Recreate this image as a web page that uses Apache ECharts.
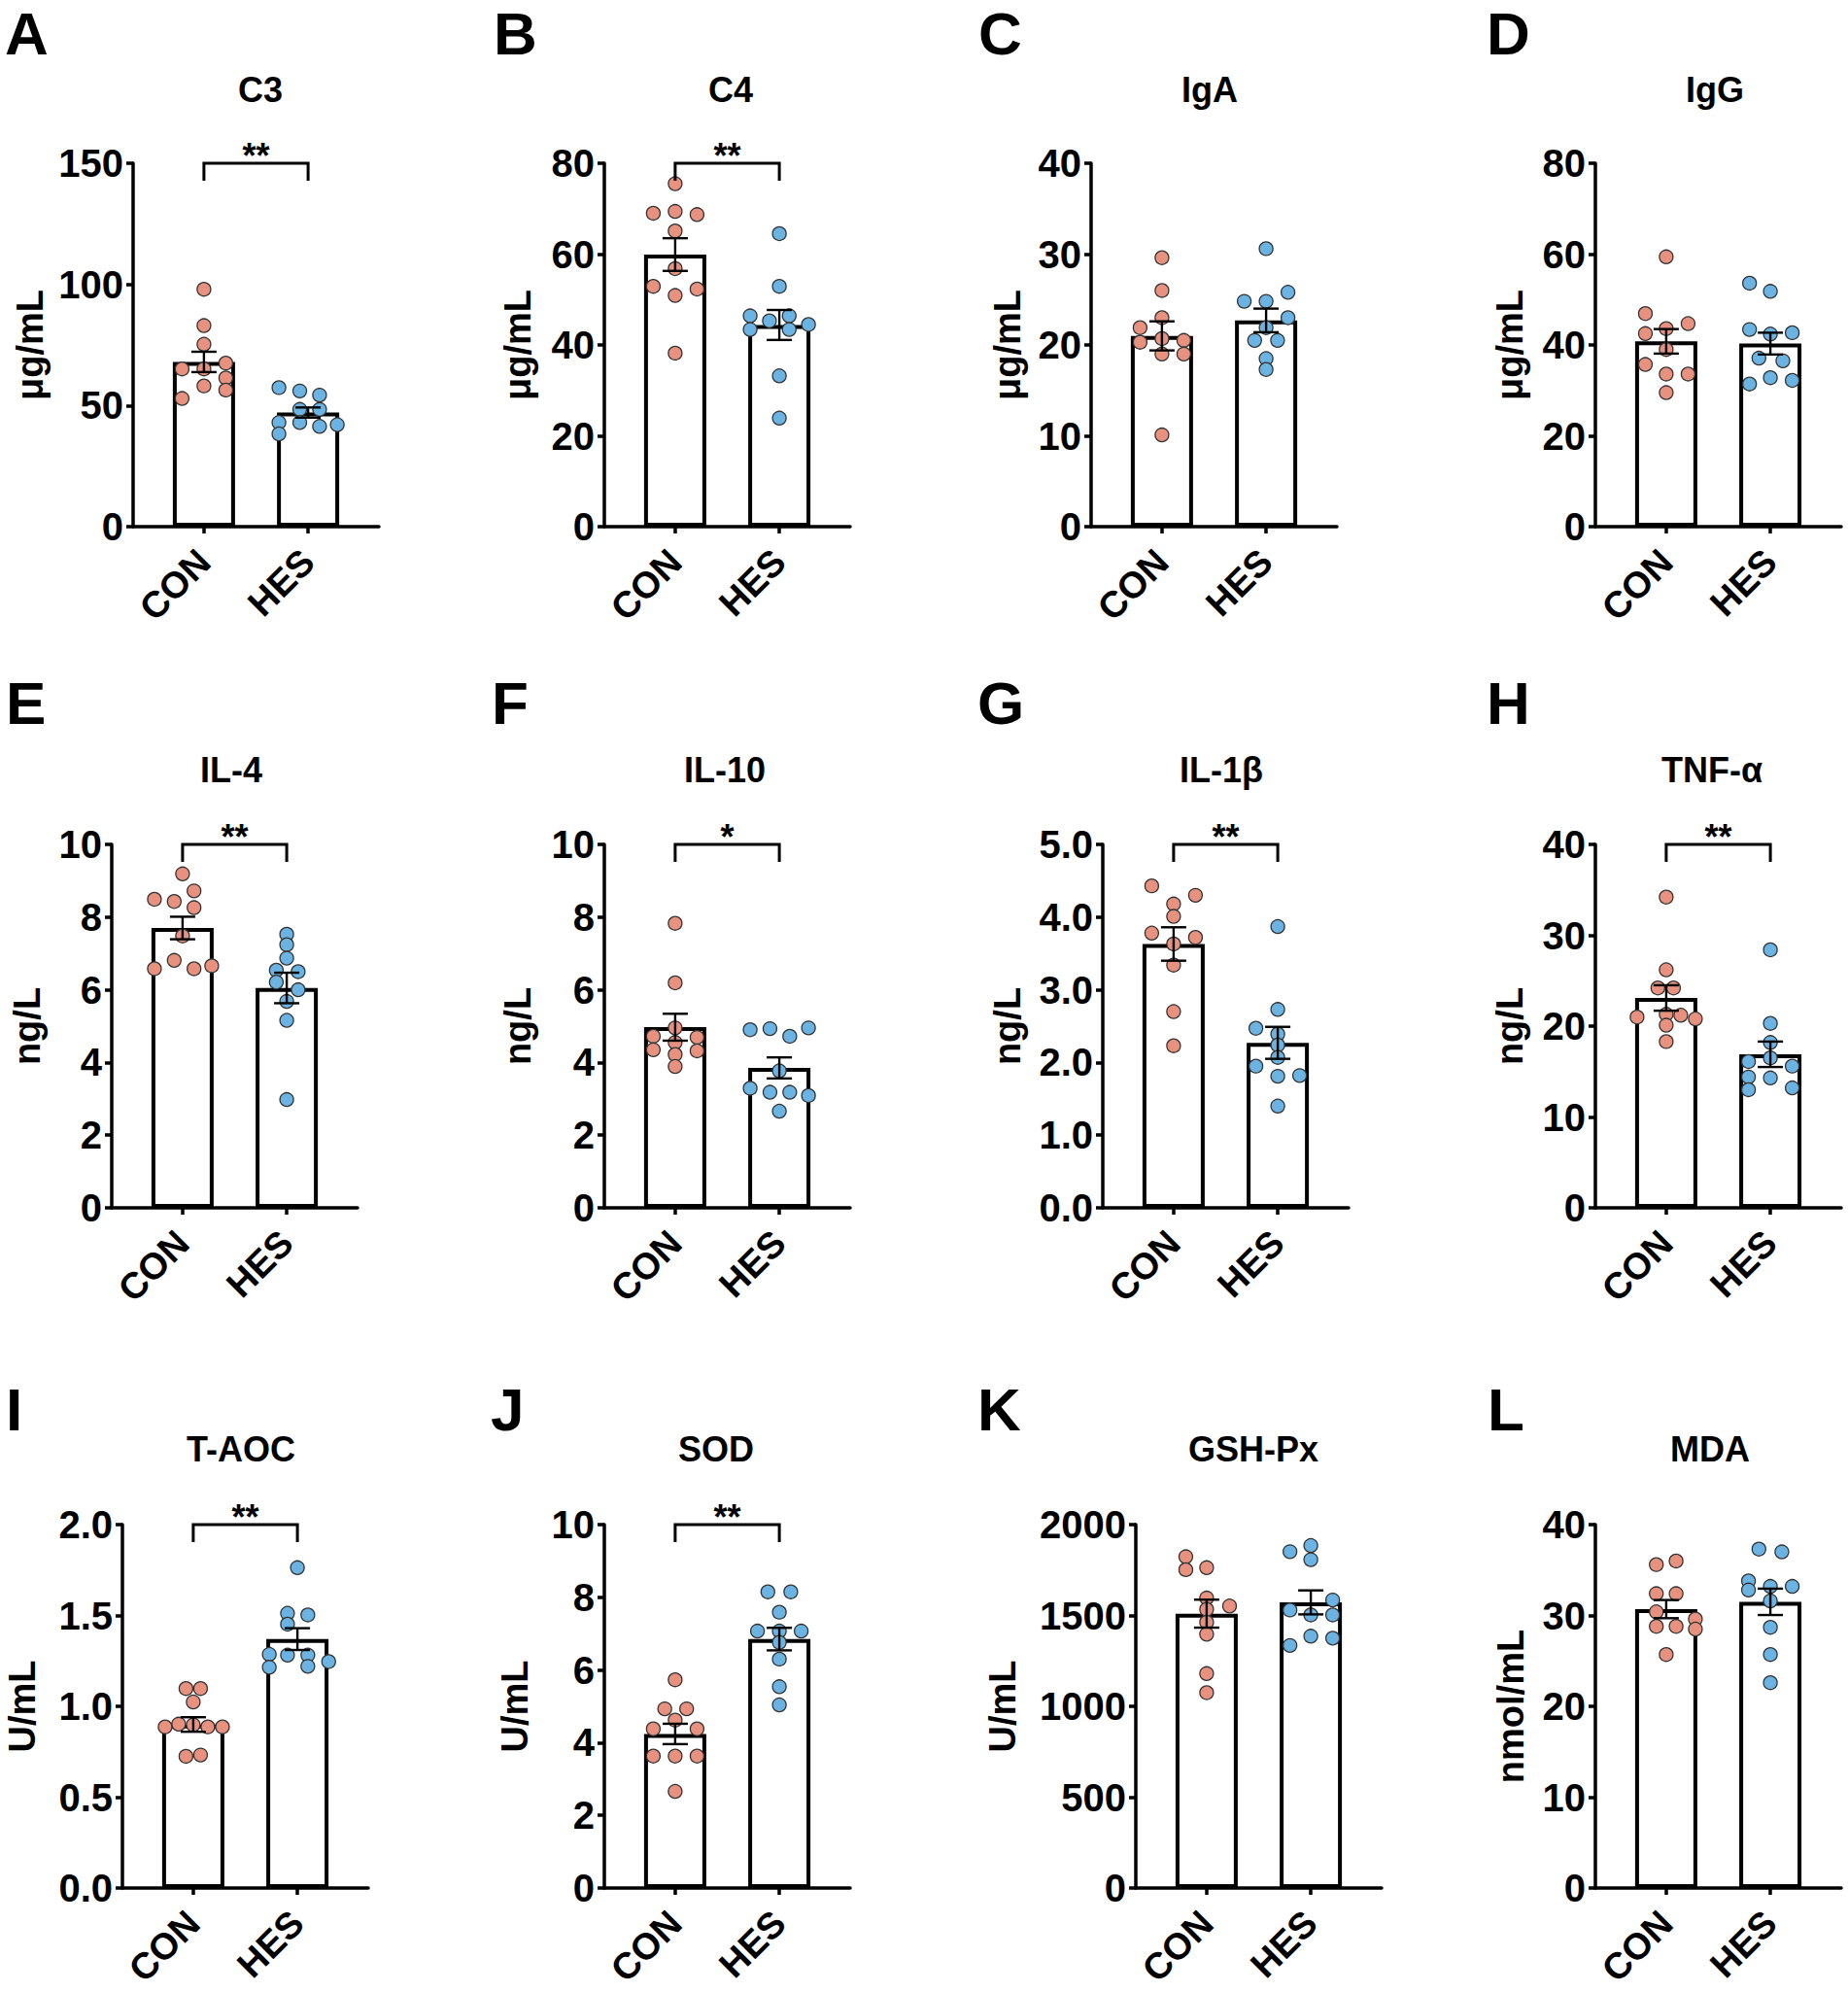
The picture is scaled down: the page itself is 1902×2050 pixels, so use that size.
<!DOCTYPE html>
<html>
<head>
<meta charset="utf-8">
<title>Serum immune and antioxidant indices</title>
<script src="https://cdn.jsdelivr.net/npm/echarts@6/dist/echarts.min.js"></script>
<style>
  html, body { margin: 0; padding: 0; background: #fff; overflow: hidden; }
  #chart { width: 1902px; height: 2050px; }
</style>
</head>
<body>
<div id="chart"></div>
<script>
const groups = ['CON', 'HES'];
const panelLetters = ['A', 'B', 'C', 'D', 'E', 'F', 'G', 'H', 'I', 'J', 'K', 'L'];
const titles = ['C3', 'C4', 'IgA', 'IgG', 'IL-4', 'IL-10', 'IL-1β', 'TNF-α', 'T-AOC', 'SOD', 'GSH-Px', 'MDA'];
const units = ['μg/mL', 'μg/mL', 'μg/mL', 'μg/mL', 'ng/L', 'ng/L', 'ng/L', 'ng/L', 'U/mL', 'U/mL', 'U/mL', 'nmol/mL'];
const yMax = [150, 80, 40, 80, 10, 10, 5, 40, 2, 10, 2000, 40];
const yStep = [50, 20, 10, 20, 2, 2, 1, 10, 0.5, 2, 500, 10];
const yDigits = [0, 0, 0, 0, 0, 0, 1, 0, 1, 0, 0, 0];
const signif = ['**', '**', '', '', '**', '*', '**', '**', '**', '**', '', ''];

// bar height (mean) and SEM, [CON, HES]
const meanValues = [
  [68.0, 47.1], [59.9, 44.4], [21.0, 22.7], [40.8, 40.3],
  [7.70, 6.05], [4.97, 3.85], [3.63, 2.27], [23.1, 16.9],
  [0.90, 1.37], [4.24, 6.85], [1510, 1572], [30.7, 31.5]
];
const semValues = [
  [4.2, 2.1], [3.6, 3.3], [1.6, 1.3], [2.7, 2.4],
  [0.31, 0.42], [0.37, 0.29], [0.23, 0.22], [1.4, 1.4],
  [0.04, 0.06], [0.28, 0.31], [77, 66], [1.0, 1.45]
];

// individual animals
const conValues = [
  [98, 83, 75.3, 67.5, 65.1, 65.1, 61.4, 58.1, 56.4, 52.9],
  [75.5, 69.0, 69.4, 68.7, 65.1, 56.8, 52.9, 52.3, 50.9, 38.2],
  [29.6, 26.0, 23.0, 21.9, 20.7, 20.3, 20.5, 19.0, 19.0, 10.1],
  [59.4, 46.9, 43.6, 44.7, 42.5, 39.0, 35.7, 33.6, 33.6, 29.5],
  [9.19, 8.72, 8.49, 8.43, 8.26, 7.48, 6.81, 6.58, 6.58, 6.66],
  [7.83, 6.19, 4.95, 4.72, 4.69, 4.55, 4.35, 4.32, 4.22, 3.89],
  [4.43, 4.30, 4.18, 4.01, 3.78, 3.72, 3.63, 3.34, 2.70, 2.23],
  [34.2, 26.2, 24.2, 24.2, 21.0, 21.3, 21.2, 20.8, 20.1, 18.3],
  [1.098, 1.098, 1.024, 0.898, 0.887, 0.902, 0.887, 0.887, 0.725, 0.732],
  [5.73, 4.93, 4.93, 4.62, 4.38, 4.38, 3.63, 3.63, 3.63, 2.66],
  [1823, 1752, 1763, 1596, 1552, 1534, 1463, 1397, 1180, 1075],
  [35.6, 36.0, 32.4, 32.4, 30.4, 29.6, 28.8, 28.8, 28.5, 25.7]
];
const hesValues = [
  [57.4, 56.0, 54.3, 48.4, 48.4, 43.0, 43.0, 41.4, 42.1, 38.3],
  [64.5, 52.9, 46.4, 45.3, 46.4, 43.4, 43.4, 44.5, 33.2, 23.9],
  [30.6, 25.8, 24.8, 24.8, 23.0, 21.9, 20.5, 20.5, 18.5, 17.3],
  [53.6, 51.8, 43.4, 42.4, 42.7, 37.1, 36.5, 32.8, 31.4, 32.2],
  [7.53, 7.24, 6.87, 6.54, 6.50, 6.21, 6.00, 5.68, 5.16, 2.98],
  [4.90, 4.93, 4.72, 4.95, 3.77, 3.29, 3.18, 3.18, 3.09, 2.66],
  [3.87, 2.73, 2.47, 2.39, 2.24, 2.07, 1.95, 1.81, 1.82, 1.40],
  [28.4, 20.3, 18.2, 16.5, 16.1, 15.6, 14.4, 14.3, 13.0, 13.2],
  [1.763, 1.512, 1.503, 1.452, 1.286, 1.282, 1.282, 1.215, 1.220, 1.246],
  [8.15, 8.15, 7.59, 7.07, 7.07, 7.07, 6.76, 6.30, 5.54, 5.04],
  [1885, 1851, 1807, 1585, 1530, 1503, 1503, 1386, 1375, 1335],
  [37.3, 37.0, 33.8, 32.8, 33.2, 33.2, 31.6, 28.7, 25.7, 22.6]
];
// horizontal scatter of each dot, in units of the CON-HES spacing
const conJitter = [
  [0, 0, 0, 0.21, -0.21, 0, 0.21, 0, 0.21, -0.21],
  [0, -0.21, 0, 0.21, 0, 0, -0.21, 0.21, 0, 0],
  [0, 0, 0, -0.21, 0, -0.21, 0.21, 0, 0.21, 0],
  [0, -0.2, 0, 0.21, -0.2, 0, -0.2, 0, 0.21, 0],
  [0, 0.11, -0.27, -0.08, 0.11, 0, -0.08, -0.27, 0.11, 0.28],
  [0, 0, 0, -0.21, 0.21, 0, -0.21, 0.21, 0, 0],
  [-0.21, 0.21, 0, 0, -0.21, 0.21, 0, 0, 0, 0],
  [0, 0, -0.08, 0.07, -0.28, 0, 0.14, 0.28, 0, 0],
  [-0.07, 0.07, 0, 0, -0.27, -0.14, 0.14, 0.28, -0.07, 0.07],
  [0, -0.1, 0.11, 0, -0.21, 0.21, -0.21, 0, 0.21, 0],
  [-0.2, -0.2, 0, 0, 0.22, 0, 0, 0, 0, 0],
  [-0.095, 0.095, -0.095, 0.095, -0.095, 0.28, -0.095, 0.095, 0.28, 0]
];
const hesJitter = [
  [-0.28, -0.08, 0.11, -0.08, 0.11, -0.28, -0.08, 0.11, 0.28, -0.28],
  [0, 0, -0.28, -0.095, 0.095, -0.28, 0.095, 0.28, 0, 0],
  [0, 0.21, -0.21, 0, 0.21, 0, -0.11, 0.11, 0, 0],
  [-0.2, 0, -0.2, 0, 0.21, -0.11, 0.12, 0, -0.2, 0.21],
  [0, 0, 0, -0.1, 0.11, -0.1, 0.11, 0, 0, 0],
  [-0.28, -0.09, 0.1, 0.28, 0, -0.28, -0.09, 0.1, 0.28, 0],
  [0, 0, -0.21, 0, 0, 0, -0.21, 0, 0.21, 0],
  [0, 0, 0, 0, -0.21, 0.21, -0.21, 0, -0.21, 0.21],
  [0, -0.095, 0.1, -0.095, -0.27, -0.095, 0.1, -0.27, 0.1, 0.3],
  [-0.11, 0.11, 0, -0.21, 0, 0.21, 0, 0, 0, 0],
  [0, -0.2, 0, 0.21, -0.2, 0, 0.21, 0, 0.21, -0.2],
  [-0.11, 0.11, -0.21, -0.21, 0, 0.21, 0, 0, 0, 0]
];

// layout, in pixels
const gridLeft = [137, 622, 1123, 1642, 115, 622, 1135, 1642, 126, 622, 1169, 1642];
const gridWidth = 253;
const rowTop = [168, 869, 1569];
const rowHeight = 374;
const xPad = 0.68;   // empty x axis beyond each group, in group spacings
const nameGap = [87, 70, 67, 69, 68, 70, 79, 69, 84, 73, 118, 68];
const letterX = [5, 508, 1007, 1530, 6, 506, 1006, 1530, 6, 505, 1006, 1531];
const titleX = [268, 752, 1245, 1765, 238, 746, 1257, 1762, 248, 737, 1290, 1760];
const letterY = [34, 723, 1450];
const titleY = [92, 792, 1491];

const FONT = '"Liberation Sans", Arial, sans-serif';
const CON_COLOR = '#E8917F';
const HES_COLOR = '#6AB3E2';

const chart = echarts.init(document.getElementById('chart'), null, { renderer: 'svg' });

const grid = [], xAxis = [], yAxis = [], series = [], graphic = [];

panelLetters.forEach(function (letter, i) {
  const row = Math.floor(i / 4);
  grid.push({
    left: gridLeft[i], top: rowTop[row], width: gridWidth, height: rowHeight,
    outerBoundsMode: 'none'
  });
  xAxis.push({
    type: 'value', gridIndex: i, min: -xPad, max: 1 + xPad,
    axisLine: { show: true, onZero: false, lineStyle: { color: '#000', width: 3.5 } },
    axisTick: { show: true, customValues: [0, 1], length: 7, lineStyle: { color: '#000', width: 3.5 } },
    axisLabel: {
      customValues: [0, 1], rotate: 45, margin: 30, fontSize: 38, fontWeight: 'bold',
      color: '#000', fontFamily: FONT,
      formatter: function (v) { return groups[Math.round(v)]; }
    },
    splitLine: { show: false }
  });
  yAxis.push({
    type: 'value', gridIndex: i, min: 0, max: yMax[i], interval: yStep[i],
    name: units[i], nameLocation: 'middle', nameGap: nameGap[i],
    nameTextStyle: { fontSize: 38, fontWeight: 'bold', color: '#000', fontFamily: FONT },
    axisLine: { show: true, onZero: false, lineStyle: { color: '#000', width: 3.5 } },
    axisTick: { show: true, length: 7, lineStyle: { color: '#000', width: 3.5 } },
    axisLabel: {
      margin: 10, fontSize: 40, fontWeight: 'bold', color: '#000', fontFamily: FONT,
      formatter: function (v) { return v.toFixed(yDigits[i]); }
    },
    splitLine: { show: false }
  });

  series.push({
    type: 'bar', xAxisIndex: i, yAxisIndex: i, barWidth: 64,
    data: groups.map(function (g, k) { return [k, meanValues[i][k]]; }),
    itemStyle: { color: '#fff', borderColor: '#000', borderWidth: 4 }, z: 1
  });
  [[conValues, conJitter, CON_COLOR, 0], [hesValues, hesJitter, HES_COLOR, 1]].forEach(function (g) {
    series.push({
      type: 'scatter', xAxisIndex: i, yAxisIndex: i,
      data: g[0][i].map(function (v, k) { return [g[3] + g[1][i][k], v]; }),
      symbol: 'circle', symbolSize: 14,
      itemStyle: { color: g[2], borderColor: '#333', borderWidth: 1.3, opacity: 1 }, z: 3
    });
  });
  // SEM error bars
  series.push({
    type: 'custom', xAxisIndex: i, yAxisIndex: i, z: 4,
    data: groups.map(function (g, k) { return [k, meanValues[i][k], semValues[i][k]]; }),
    encode: { x: 0, y: 1 },
    renderItem: function (params, api) {
      const k = api.value(0), m = api.value(1), s = api.value(2);
      const hi = api.coord([k, m + s]), lo = api.coord([k, m - s]);
      const cap = 13;
      const st = { stroke: '#000', lineWidth: 2.4 };
      return {
        type: 'group', children: [
          { type: 'line', shape: { x1: hi[0], y1: hi[1], x2: lo[0], y2: lo[1] }, style: st },
          { type: 'line', shape: { x1: hi[0] - cap, y1: hi[1], x2: hi[0] + cap, y2: hi[1] }, style: st },
          { type: 'line', shape: { x1: lo[0] - cap, y1: lo[1], x2: lo[0] + cap, y2: lo[1] }, style: st }
        ]
      };
    }
  });
  // significance bracket
  if (signif[i]) {
    series.push({
      type: 'custom', xAxisIndex: i, yAxisIndex: i, z: 4, clip: false,
      data: [[0, yMax[i]]],
      encode: { x: 0, y: 1 },
      renderItem: function (params, api) {
        const top = api.value(1);
        const a = api.coord([0, top]), b = api.coord([1, top]);
        return {
          type: 'group', children: [
            { type: 'polyline', shape: { points: [[a[0], a[1] + 18], a, b, [b[0], b[1] + 18]] },
              style: { stroke: '#000', lineWidth: 3, fill: null } },
            { type: 'text', x: (a[0] + b[0]) / 2, y: a[1] - 8,
              style: { text: signif[i], fontSize: 36, fontWeight: 'bold', fontFamily: FONT, fill: '#000',
                       textAlign: 'center', textVerticalAlign: 'middle' } }
          ]
        };
      }
    });
  }

  graphic.push({
    type: 'text', x: letterX[i], y: letterY[row],
    style: { text: letter, fontSize: 62, fontWeight: 'bold', fontFamily: FONT, fill: '#000',
             textAlign: 'left', textVerticalAlign: 'middle' }
  });
  graphic.push({
    type: 'text', x: titleX[i], y: titleY[row],
    style: { text: titles[i], fontSize: 36, fontWeight: 'bold', fontFamily: FONT, fill: '#000',
             textAlign: 'center', textVerticalAlign: 'middle' }
  });
});

chart.setOption({
  backgroundColor: '#ffffff',
  animation: false,
  textStyle: { fontFamily: FONT },
  grid: grid,
  xAxis: xAxis,
  yAxis: yAxis,
  series: series,
  graphic: graphic
});
</script>
</body>
</html>
